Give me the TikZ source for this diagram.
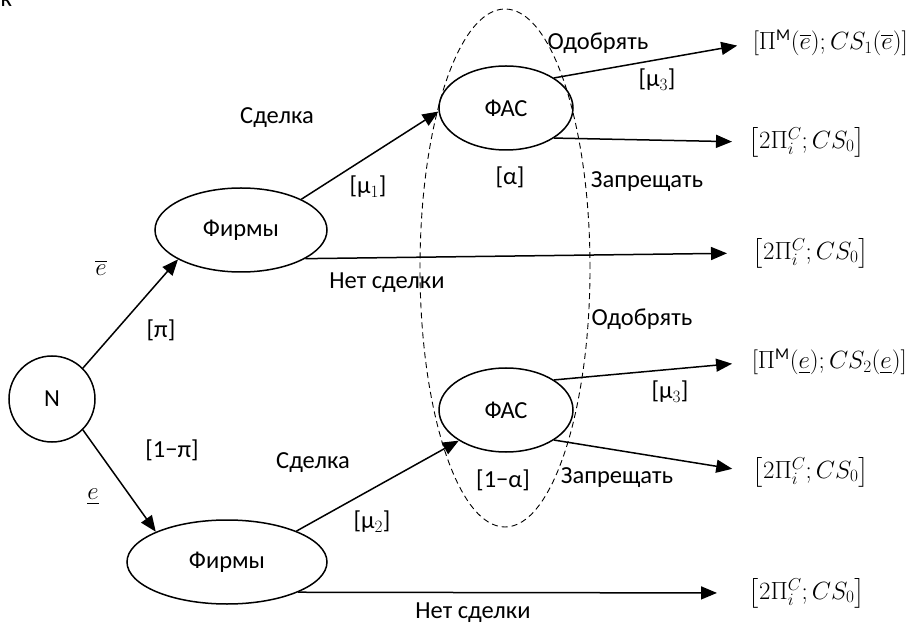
\documentclass[tikz,border=0pt]{standalone}
\usepackage{amsmath}
\usepackage{fontspec}
\setmainfont{Carlito}
\usepackage{tikz}
\usetikzlibrary{arrows.meta}
\usetikzlibrary{shapes.geometric}

\begin{document}
\begin{tikzpicture}[x=1pt, y=1pt, line width=1.5pt,
		font=\fontsize{24.5}{29}\selectfont,
		agent/.style={draw, ellipse, inner sep=0pt, minimum height=84pt},
		move/.style={-{Triangle[length=16pt, width=13pt]}},
		payoff/.style={anchor=west, inner sep=0pt, font=\fontsize{23.5}{28}\selectfont}]
		\useasboundingbox (0,0) rectangle (912,624);

		% Players
		\node (N) at (52,225) [draw, circle, minimum size=86pt] {N};
		\node (firmsA) at (241,394) [agent, minimum width=172pt] {Фирмы};
		\node (firmsB) at (227,62) [agent, minimum width=200pt] {Фирмы};
		\node (fasA) at (506,516) [agent, minimum width=134pt] {ФАС};
		\node (fasB) at (506,214) [agent, minimum width=134pt] {ФАС};

		% Information set of the regulator
		\draw (505,356) ellipse [x radius=85pt, y radius=259pt]
			[dashed, line width=0.9pt, dash pattern=on 6pt off 4pt];

		% Payoffs
		\node (payA) at (752,581) [payoff] {$[\Pi^{\mathrm{M}}(\overline{e}); CS_1(\overline{e})]$};
		\node (payB) at (748,482) [payoff] {$\left[2\Pi_i^C; CS_0\right]$};
		\node (payC) at (752,371) [payoff] {$\left[2\Pi_i^C; CS_0\right]$};
		\node (payD) at (751,262) [payoff] {$\left[\Pi^{\mathrm{M}}(\underline{e}); CS_2(\underline{e})\right]$};
		\node (payE) at (752,152) [payoff] {$\left[2\Pi_i^C; CS_0\right]$};
		\node (payF) at (748,31) [payoff] {$\left[2\Pi_i^C; CS_0\right]$};

		% Moves
		\draw [move] (N.45) -- (firmsA.205);
		\draw [move] (N.-45) -- (firmsB.157);
		\draw [move] (firmsA.27) -- (fasA.183);
		\draw [move, shorten >=25pt] (firmsA.-24) -- (payC.west);
		\draw [move] (firmsB.24) -- (fasB.213);
		\draw [move, shorten >=31pt] (firmsB.-23) -- (payF.west);
		\draw [move, shorten >=15pt] (fasA.32) -- (payA.west);
		\draw [move, shorten >=16pt] (fasA.-32) -- (payB.west);
		\draw [move, shorten >=19pt] (fasB.32) -- (payD.west);
		\draw [move, shorten >=20pt] (fasB.-32) -- (payE.west);

		% Labels
		\node (cut) at (0,617) [anchor=base west, inner sep=0pt] {к};
		\node (eHigh) at (101,356) {$\overline{e}$};
		\node (eLow) at (93,127) {$\underline{e}$};
		\node (pi) at (161,294) {[π]};
		\node (notPi) at (172,174) {[1−π]};
		\node (dealA) at (277,506) {Сделка};
		\node (muA) at (368,437) {[μ$_1$]};
		\node (noDealA) at (387,341) {Нет сделки};
		\node (dealB) at (313,161) {Сделка};
		\node (muB) at (372,102) {[μ$_2$]};
		\node (noDealB) at (473,11) {Нет сделки};
		\node (okA) at (598,581) {Одобрять};
		\node (muC) at (657,544) {[μ$_3$]};
		\node (banA) at (647,442) {Запрещать};
		\node (alpha) at (510,447) {[α]};
		\node (okB) at (642,305) {Одобрять};
		\node (muD) at (670,232) {[μ$_3$]};
		\node (banB) at (617,146) {Запрещать};
		\node (notAlpha) at (503,144) {[1−α]};
	\end{tikzpicture}
\end{document}
